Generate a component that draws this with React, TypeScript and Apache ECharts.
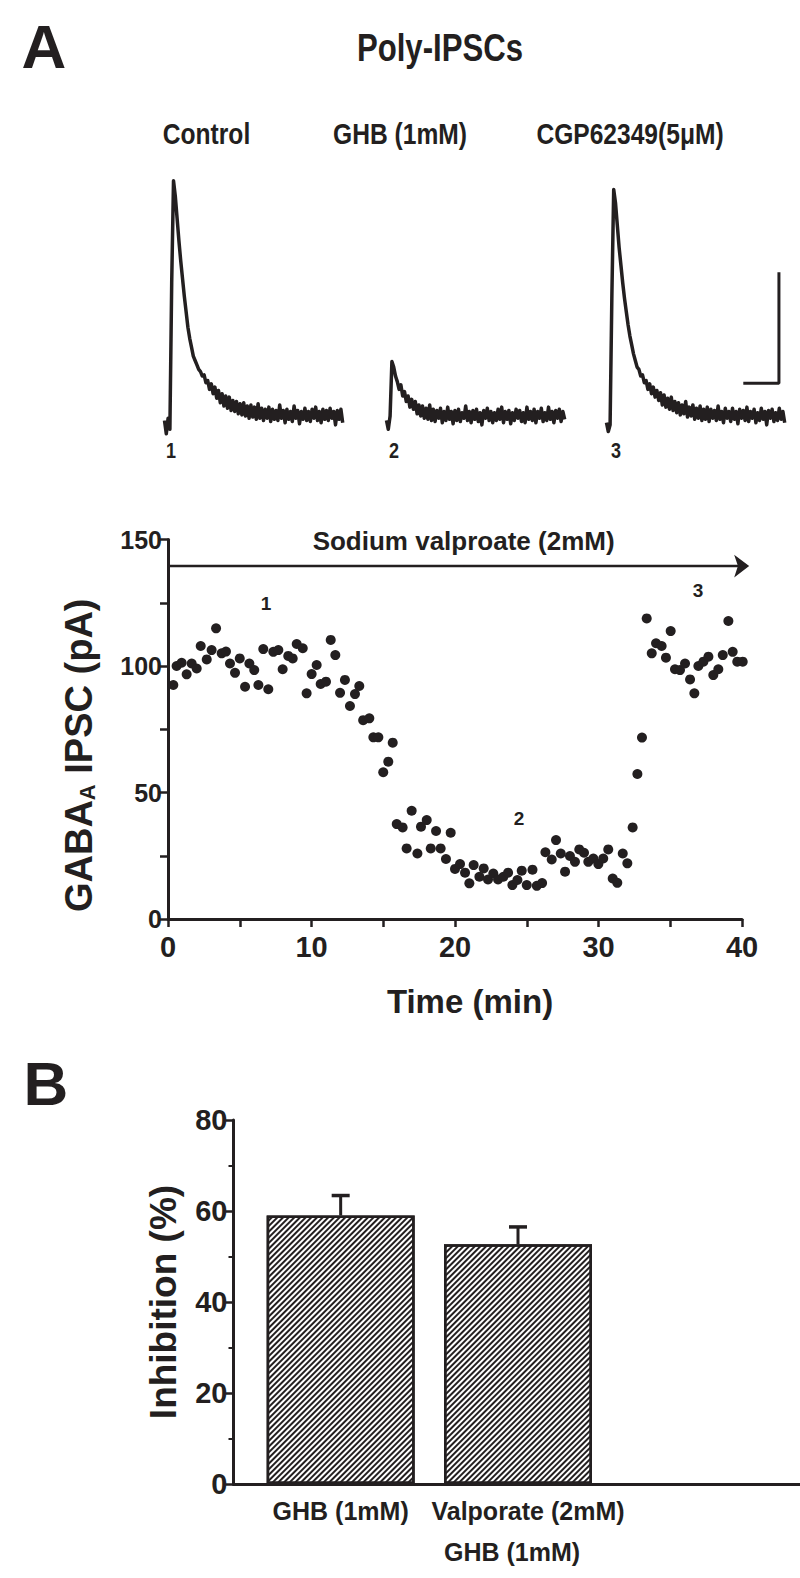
import React, { useEffect, useRef } from "react";
import * as echarts from "echarts";

// ---------- data ----------
// sample traces (pA), one value every 5 ms
const traceStepMs = 5;
const controlTrace = [
  -2, -8, -1, -6, 60, 106, 99, 89, 79, 70, 62, 54, 47, 40, 35, 31, 27, 25, 23, 21,
  20, 18, 18.5, 15, 16, 12, 14.5, 10, 13, 8, 11.5, 6, 10, 4.5, 9, 3.5, 8.5, 2.5, 7, 2,
  6.5, 1, 5.5, 0.5, 6, 0, 4.5, -1, 5, -0.5, 4, -1.5, 5.5, -1, 3.5, -2, 3, -1, 4, -2.5,
  3, -1.5, 2.5, -2, 5, -1, 2.5, -3, 3, -1.5, 2, -2.5, 4.5, -1, 2.5, -3.5, 2, -1.5, 3.5, -2,
  2, -2.5, 3, -1, 4, -2, 2, -3, 3, -1.5, 2.5, -2, 3.5, -1, 2, -4, 2.5, -1.5, 3, -3,
];
const ghbTrace = [
  -2, -6, 0, 24.5, 22, 18, 15.5, 12, 14, 9, 11, 6.5, 9, 4, 7.5, 3, 6.5, 1, 5, 0,
  4.5, -1, 3.5, -1.5, 5, -2, 3, -2.5, 2.5, -1, 3.5, -3, 2, -2, 4, -1.5, 2, -3.5, 2.5, -2,
  3, -2.5, 1.5, -1, 4.5, -2, 2, -3, 2.5, -1.5, 3, -2.5, 1.5, -4, 2.5, -1, 3.5, -2, 2, -3,
  1.5, -2, 3, -1.5, 4, -3, 2, -1.5, 2.5, -3.5, 1.5, -2, 3, -1, 2.5, -2.5, 1.5, -3, 4, -1.5,
  2, -2, 3, -3, 2, -1, 3.5, -2.5, 1.5, -2, 4, -1.5, 2, -3, 2.5, -1, 3, -2.5, 2, -1.5,
];
const cgpTrace = [
  -3, -7, -4, 55, 102, 96, 86, 76, 68, 60, 53, 47, 41, 36, 32, 28, 25, 22, 21, 18,
  18.5, 15, 16, 12, 14.5, 10, 13, 8.5, 11.5, 7, 10.5, 5, 9.5, 4, 8, 3, 8.5, 2.5, 6.5, 1.5,
  6, 0.5, 5, 1, 6.5, -0.5, 4, 0, 5, -1.5, 3.5, -1, 4.5, -2, 3, -1.5, 4, -2.5, 3, -1,
  2.5, -2, 4.5, -1.5, 2, -3, 3.5, -1, 2, -2.5, 3.5, -1.5, 2, -3.5, 3, -1, 2.5, -2, 4, -2.5,
  2, -1, 3, -3, 1.5, -2, 3.5, -1.5, 2, -4, 2.5, -1, 3, -2.5, 1.5, -2, 3.5, -1.5, 2, -3,
];
// scale bar: 50 pA x 100 ms (ms, pA)
const scaleBarPoints = [
  [479, 64.7],
  [479, 14.7],
  [380, 14.7],
];

// time course: [time (min), GABA-A IPSC (pA)]
const ipscTimeCourse = [
  [0.37, 92.5], [0.6, 100], [0.95, 101.3], [1.3, 96.7], [1.65, 101], [2.0, 99], [2.28, 107.9],
  [2.7, 102.6], [3.04, 106.3], [3.35, 114.9], [3.74, 105], [4.04, 105.7], [4.32, 101], [4.67, 97.3],
  [5.0, 103], [5.37, 91.8], [5.67, 101], [6.01, 98.4], [6.3, 92.5], [6.64, 106.7], [6.99, 90.8],
  [7.34, 105.6], [7.69, 106.3], [7.99, 98.7], [8.38, 104], [8.69, 103], [8.97, 108.7], [9.39, 107],
  [9.66, 89.2], [10.01, 96.8], [10.36, 100.4], [10.64, 92.9], [11.01, 93.8], [11.34, 110.3],
  [11.66, 104.3], [11.99, 89.4], [12.33, 94.5], [12.68, 84.2], [13.03, 88.9], [13.33, 92.1],
  [13.6, 78.6], [14.03, 79.3], [14.31, 71.8], [14.66, 71.8], [15.0, 58], [15.35, 62.2], [15.66, 69.7],
  [15.94, 37.5], [16.35, 36.2], [16.63, 27.9], [16.98, 42.8], [17.38, 25.9], [17.63, 36.5],
  [18.03, 39.1], [18.31, 27.9], [18.68, 34.8], [19.0, 27.9], [19.37, 23.7], [19.7, 34.1],
  [20.0, 19.8], [20.35, 21.7], [20.7, 18.3], [21.0, 14.1], [21.3, 21.3], [21.7, 16.7], [22.0, 20],
  [22.3, 15.6], [22.67, 18], [23.0, 15.6], [23.37, 16.7], [23.7, 18.3], [24.0, 13.4], [24.35, 15.4],
  [24.65, 19.1], [25.0, 13.4], [25.4, 19.5], [25.7, 13.1], [26.07, 14.2], [26.3, 26.4], [26.74, 23.5],
  [27.04, 31.2], [27.37, 25.9], [27.67, 18.7], [28.01, 24.9], [28.36, 22.6], [28.66, 27.5],
  [28.99, 26.2], [29.29, 22.6], [29.64, 23.9], [29.99, 21.7], [30.33, 23.9], [30.68, 27.5],
  [30.99, 16], [31.31, 14.3], [31.69, 25.9], [32.01, 22], [32.38, 36.2], [32.71, 57.3], [33.03, 71.7],
  [33.36, 118.8], [33.71, 105], [34.01, 109], [34.4, 107.9], [34.7, 103.3], [35.03, 113.8],
  [35.33, 98.7], [35.68, 98.4], [36.03, 101], [36.38, 94.7], [36.68, 89.2], [36.96, 100],
  [37.31, 101.7], [37.66, 103.7], [38.0, 96.4], [38.35, 98.7], [38.66, 104.3], [39.05, 117.8],
  [39.35, 105.6], [39.67, 101.7], [40.05, 101.7],
];
const timeCourseMarks = [
  { name: "1", coord: [6.83, 124.9] },
  { name: "2", coord: [24.46, 39.9] },
  { name: "3", coord: [36.93, 130.0] },
];
// drug application bar (min) and its level on the pA axis
const valproateStart = 0;
const valproateLabelAt = 20.6;
const valproateEnd = 40.5;
const valproateLevel = 139.5;

// panel B
const barCategories = ["GHB (1mM)", "{a|Valporate (2mM)}\n{b|GHB (1mM)}", ""];
const barMeans = [59, 52.7];
const barErrors = [4.4, 3.8];

// ---------- styling ----------
const INK = "#231f20";
const SANS = "'Liberation Sans', Arial, Helvetica, sans-serif";
const NARROW_SCALE = 0.82;

const PX_PER_PA = 2.22;
const TRACE_BASE_Y = 416;
const PX_PER_MS = 0.36;

function traceGrid(left: number) {
  return {
    left,
    top: TRACE_BASE_Y - 110 * PX_PER_PA,
    width: 500 * PX_PER_MS,
    height: 120 * PX_PER_PA,
    outerBoundsMode: "none",
  };
}

function traceSeries(values: number[], idx: number) {
  return {
    type: "line",
    xAxisIndex: idx,
    yAxisIndex: idx,
    data: values.map((v, i) => [i * traceStepMs, v]),
    showSymbol: false,
    symbol: "none",
    clip: false,
    lineStyle: { color: INK, width: 3.5, join: "round" },
    silent: true,
  };
}

// condensed bold text (horizontally squeezed like the reference's narrow face)
function narrowText(text: string, x: number, y: number, size: number, scale = NARROW_SCALE) {
  return {
    type: "text",
    x,
    y,
    scaleX: scale,
    scaleY: 1,
    silent: true,
    style: {
      text,
      x: 0,
      y: 0,
      font: `bold ${size}px ${SANS}`,
      fill: INK,
      align: "center",
      verticalAlign: "middle",
    },
  };
}

export default function App() {
  const ref = useRef<HTMLDivElement>(null);

  useEffect(() => {
    if (!ref.current) return;
    const chart = echarts.init(ref.current, undefined, { renderer: "svg" });

    const hiddenX = (g: number) => ({ gridIndex: g, type: "value", min: 0, max: 500, show: false });
    const hiddenY = (g: number) => ({ gridIndex: g, type: "value", min: -10, max: 110, show: false });

    const option: any = {
      animation: false,
      backgroundColor: "#ffffff",
      textStyle: { fontFamily: SANS, color: INK },
      graphic: [
        narrowText("A", 44, 46.5, 62, 1),
        narrowText("B", 46, 1083.5, 62, 1),
        narrowText("Poly-IPSCs", 440, 47.5, 38),
        narrowText("Control", 206.5, 133.5, 30),
        narrowText("GHB (1mM)", 400, 133.5, 30),
        narrowText("CGP62349(5μM)", 630, 133.5, 30),
        narrowText("1", 171, 450, 22),
        narrowText("2", 394, 450, 22),
        narrowText("3", 616, 450, 22),
      ],
      grid: [
        traceGrid(164.5),
        traceGrid(386.5),
        traceGrid(606.5),
        { left: 168, top: 539.5, width: 574, height: 379.5, outerBoundsMode: "none" },
        { left: 252, top: 1120, width: 532, height: 364, outerBoundsMode: "none" },
        { left: 233.5, top: 1120, right: 0, height: 364, outerBoundsMode: "none" },
      ],
      xAxis: [
        hiddenX(0),
        hiddenX(1),
        hiddenX(2),
        {
          gridIndex: 3,
          type: "value",
          min: 0,
          max: 40,
          interval: 5,
          axisLine: { show: true, onZero: false, lineStyle: { color: INK, width: 3 } },
          axisTick: { show: true, length: 8, lineStyle: { color: INK, width: 2.5 } },
          axisLabel: {
            formatter: (v: number) => (v % 10 === 0 ? String(v) : ""),
            fontFamily: SANS,
            fontWeight: "bold",
            fontSize: 29,
            color: INK,
            margin: 13,
          },
          splitLine: { show: false },
          name: "Time (min)",
          nameLocation: "middle",
          nameGap: 66,
          nameTextStyle: { fontFamily: SANS, fontWeight: "bold", fontSize: 33, color: INK, padding: [0, 0, 0, 30] },
        },
        {
          gridIndex: 4,
          type: "category",
          data: barCategories,
          axisLine: { show: false },
          axisTick: { show: false },
          axisLabel: {
            interval: 0,
            fontFamily: SANS,
            fontWeight: "bold",
            fontSize: 25,
            lineHeight: 41,
            color: INK,
            margin: 6,
            rich: {
              a: { fontFamily: SANS, fontWeight: "bold", fontSize: 25, lineHeight: 41, color: INK, padding: [0, 0, 0, 20] },
              b: { fontFamily: SANS, fontWeight: "bold", fontSize: 25, lineHeight: 41, color: INK, padding: [0, 12, 0, 0] },
            },
          },
          splitLine: { show: false },
        },
        {
          gridIndex: 5,
          type: "value",
          min: 0,
          max: 1,
          axisLine: { show: true, onZero: false, lineStyle: { color: INK, width: 3 } },
          axisTick: { show: false },
          axisLabel: { show: false },
          splitLine: { show: false },
        },
      ],
      yAxis: [
        hiddenY(0),
        hiddenY(1),
        hiddenY(2),
        {
          gridIndex: 3,
          type: "value",
          min: 0,
          max: 150,
          interval: 25,
          axisLine: { show: true, onZero: false, lineStyle: { color: INK, width: 3 } },
          axisTick: { show: true, length: 8, lineStyle: { color: INK, width: 2.5 } },
          axisLabel: {
            formatter: (v: number) => (v % 50 === 0 ? String(v) : ""),
            fontFamily: SANS,
            fontWeight: "bold",
            fontSize: 25,
            color: INK,
            margin: 6,
          },
          splitLine: { show: false },
          name: "GABA{s|A} IPSC (pA)",
          nameLocation: "middle",
          nameGap: 70,
          nameTextStyle: {
            fontFamily: SANS,
            fontWeight: "bold",
            fontSize: 38,
            color: INK,
            padding: [0, 52, 0, 0],
            rich: { s: { fontFamily: SANS, fontWeight: "bold", fontSize: 22, color: INK, verticalAlign: "bottom" } },
          },
        },
        {
          gridIndex: 4,
          type: "value",
          min: 0,
          max: 80,
          interval: 20,
          offset: 18.5,
          axisLine: { show: true, onZero: false, lineStyle: { color: INK, width: 3 } },
          axisTick: { show: true, length: 8, lineStyle: { color: INK, width: 2.5 } },
          minorTick: { show: true, splitNumber: 2, length: 5, lineStyle: { color: INK, width: 2 } },
          axisLabel: { fontFamily: SANS, fontWeight: "bold", fontSize: 29, color: INK, margin: 6 },
          splitLine: { show: false },
          minorSplitLine: { show: false },
          name: "Inhibition (%)",
          nameLocation: "middle",
          nameGap: 52,
          nameTextStyle: { fontFamily: SANS, fontWeight: "bold", fontSize: 37, color: INK },
        },
        { gridIndex: 5, type: "value", min: 0, max: 1, show: false },
      ],
      series: [
        traceSeries(controlTrace, 0),
        traceSeries(ghbTrace, 1),
        traceSeries(cgpTrace, 2),
        {
          type: "line",
          xAxisIndex: 2,
          yAxisIndex: 2,
          data: scaleBarPoints,
          showSymbol: false,
          symbol: "none",
          clip: false,
          lineStyle: { color: INK, width: 3 },
          silent: true,
        },
        // drug application arrow
        {
          type: "line",
          xAxisIndex: 3,
          yAxisIndex: 3,
          clip: false,
          silent: true,
          showSymbol: true,
          showAllSymbol: true,
          lineStyle: { color: INK, width: 2.5 },
          itemStyle: { color: INK },
          data: [
            { value: [valproateStart, valproateLevel], symbol: "none" },
            {
              value: [valproateLabelAt, valproateLevel],
              symbol: "circle",
              symbolSize: 1,
              label: {
                show: true,
                position: "top",
                distance: 12,
                formatter: "Sodium valproate (2mM)",
                fontFamily: SANS,
                fontWeight: "bold",
                fontSize: 26,
                color: INK,
              },
            },
            { value: [valproateEnd, valproateLevel], symbol: "arrow", symbolRotate: -90, symbolSize: [17, 15] },
          ],
        },
        {
          type: "scatter",
          xAxisIndex: 3,
          yAxisIndex: 3,
          data: ipscTimeCourse,
          symbol: "circle",
          symbolSize: 10,
          clip: false,
          itemStyle: { color: INK, opacity: 1 },
          silent: true,
          markPoint: {
            silent: true,
            symbol: "circle",
            symbolSize: 1,
            itemStyle: { color: "rgba(0,0,0,0)" },
            label: {
              show: true,
              position: "inside",
              formatter: (p: any) => p.name,
              fontFamily: SANS,
              fontWeight: "bold",
              fontSize: 19,
              color: INK,
            },
            data: timeCourseMarks,
          },
        },
        {
          type: "bar",
          xAxisIndex: 4,
          yAxisIndex: 4,
          data: barMeans,
          barWidth: 148,
          silent: true,
          itemStyle: {
            color: "#ffffff",
            borderColor: INK,
            borderWidth: 2.5,
            decal: {
              symbol: "rect",
              symbolSize: 1,
              dashArrayX: [1, 0],
              dashArrayY: [1.8, 1.7],
              rotation: -Math.PI / 4,
              color: INK,
              backgroundColor: "#ffffff",
            },
          },
        },
        {
          type: "custom",
          xAxisIndex: 4,
          yAxisIndex: 4,
          silent: true,
          z: 5,
          data: barMeans.map((m, i) => [i, m, barErrors[i]]),
          renderItem: (params: any, api: any) => {
            const x = api.value(0);
            const m = api.value(1);
            const e = api.value(2);
            const base = api.coord([x, m]);
            const top = api.coord([x, m + e]);
            return {
              type: "group",
              children: [
                { type: "line", shape: { x1: base[0], y1: base[1], x2: top[0], y2: top[1] }, style: { stroke: INK, lineWidth: 3 } },
                { type: "line", shape: { x1: top[0] - 9, y1: top[1], x2: top[0] + 9, y2: top[1] }, style: { stroke: INK, lineWidth: 3.5 } },
              ],
            };
          },
        },
      ],
    };

    chart.setOption(option);
    return () => chart.dispose();
  }, []);

  return <div ref={ref} style={{ position: "absolute", left: 0, top: 0, width: 800, height: 1578 }} />;
}
